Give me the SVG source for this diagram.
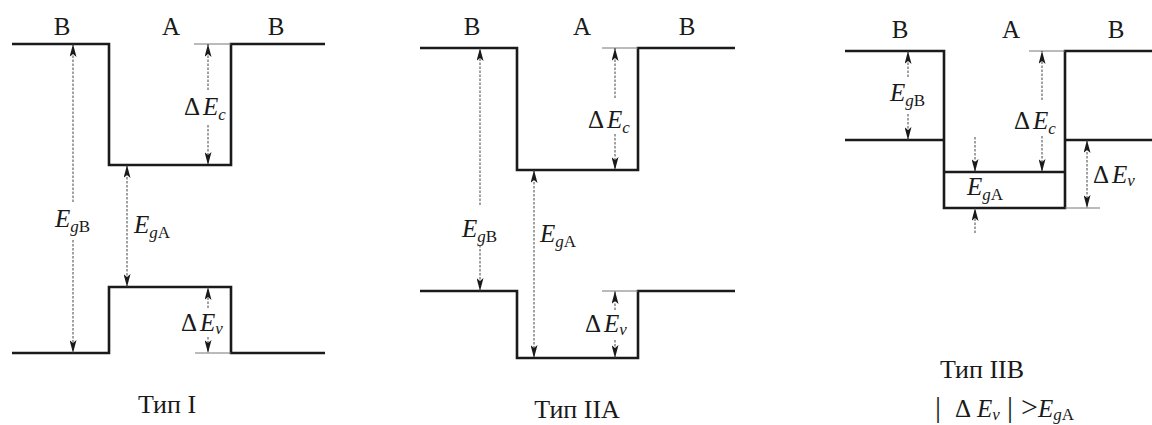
<svg xmlns="http://www.w3.org/2000/svg" width="1152" height="425" viewBox="0 0 1152 425">
<style>
.band{fill:none;stroke:#1a1a1a;stroke-width:2.6;stroke-linejoin:miter}
.ref{fill:none;stroke:#777;stroke-width:1}
.arr{fill:none;stroke:#444;stroke-width:1;stroke-dasharray:2.5 1.5}
text{font-family:"Liberation Serif","Times New Roman",serif;fill:#1a1a1a}
.lbl{font-size:25px;text-anchor:middle}
.sym{font-size:25px}
.it{font-style:italic}
.sub{font-size:17px}
.cap{font-size:26px;text-anchor:middle}
</style>
<defs>
<marker id="ah" viewBox="0 0 13 7" refX="13" refY="3.5" markerWidth="13" markerHeight="7" markerUnits="userSpaceOnUse" orient="auto-start-reverse">
<path d="M0,0 L13,3.5 L0,7 L3,3.5 z" fill="#1a1a1a"/>
</marker>
</defs>

<g id="type1">
<path class="band" d="M12,44 H109 V165 H231 V44 H325"/>
<path class="band" d="M12,353 H109 V287 H231 V353 H325"/>
<path class="ref" d="M194,44 H231 M195,353 H231"/>
<text class="lbl" x="62" y="35">B</text>
<text class="lbl" x="171" y="35">A</text>
<text class="lbl" x="276" y="35">B</text>
<text class="sym" x="55" y="227"><tspan class="it">E</tspan><tspan class="sub it" dy="5">g</tspan><tspan class="sub">B</tspan></text>
<text class="sym" x="134" y="233"><tspan class="it">E</tspan><tspan class="sub it" dy="5">g</tspan><tspan class="sub">A</tspan></text>
<text class="sym" x="184" y="115">Δ<tspan class="it" dx="3">E</tspan><tspan class="sub it" dy="5">c</tspan></text>
<text class="sym" x="181" y="331">Δ<tspan class="it" dx="3">E</tspan><tspan class="sub it" dy="3">v</tspan></text>
<text class="cap" x="167" y="413">Тип I</text>
</g>

<g id="type2a">
<path class="band" d="M420,48 H517 V170 H638 V48 H735"/>
<path class="band" d="M420,291 H517 V358 H638 V291 H735"/>
<path class="ref" d="M602,48 H638 M602,291 H638"/>
<text class="lbl" x="472" y="35">B</text>
<text class="lbl" x="582" y="35">A</text>
<text class="lbl" x="687" y="35">B</text>
<text class="sym" x="462" y="237"><tspan class="it">E</tspan><tspan class="sub it" dy="5">g</tspan><tspan class="sub">B</tspan></text>
<text class="sym" x="540" y="242"><tspan class="it">E</tspan><tspan class="sub it" dy="5">g</tspan><tspan class="sub">A</tspan></text>
<text class="sym" x="588" y="128">Δ<tspan class="it" dx="3">E</tspan><tspan class="sub it" dy="5">c</tspan></text>
<text class="sym" x="585" y="332">Δ<tspan class="it" dx="3">E</tspan><tspan class="sub it" dy="3">v</tspan></text>
<text class="cap" x="577" y="418">Тип IIA</text>
</g>

<g id="type2b">
<path class="band" d="M845,51 H944 V208 H1065 V51 H1152"/>
<path class="band" d="M845,140 H944 M944,172 H1065 M1065,140 H1152"/>
<path class="ref" d="M1029,51 H1065 M1065,208 H1100"/>
<text class="lbl" x="900" y="38">B</text>
<text class="lbl" x="1011" y="38">A</text>
<text class="lbl" x="1116" y="38">B</text>
<text class="sym" x="890" y="101"><tspan class="it">E</tspan><tspan class="sub it" dy="5">g</tspan><tspan class="sub">B</tspan></text>
<text class="sym" x="967" y="195"><tspan class="it">E</tspan><tspan class="sub it" dy="5">g</tspan><tspan class="sub">A</tspan></text>
<text class="sym" x="1014" y="129">Δ<tspan class="it" dx="3">E</tspan><tspan class="sub it" dy="5">c</tspan></text>
<text class="sym" x="1093" y="183">Δ<tspan class="it" dx="3">E</tspan><tspan class="sub it" dy="3">v</tspan></text>
<text class="cap" x="982" y="378">Тип IIB</text>
<text class="sym" y="417"><tspan x="935" font-size="30">|</tspan><tspan x="955">Δ</tspan><tspan class="it" x="977">E</tspan><tspan class="sub it" dy="3">v</tspan><tspan x="1007" dy="-3" font-size="30">|</tspan><tspan x="1021" font-size="30">&gt;</tspan><tspan class="it" x="1038">E</tspan><tspan class="sub it" dy="3">g</tspan><tspan class="sub">A</tspan></text>
</g>

<g id="connectors">
<path class="arr" d="M73,202 V44" marker-end="url(#ah)"/>
<path class="arr" d="M73,240 V353" marker-end="url(#ah)"/>
<path class="arr" d="M127,165 V287" marker-start="url(#ah)" marker-end="url(#ah)"/>
<path class="arr" d="M208,90 V44" marker-end="url(#ah)"/>
<path class="arr" d="M208,125 V165" marker-end="url(#ah)"/>
<path class="arr" d="M208,308 V287" marker-end="url(#ah)"/>
<path class="arr" d="M208,337 V353" marker-end="url(#ah)"/>
<path class="arr" d="M480,205 V48" marker-end="url(#ah)"/>
<path class="arr" d="M480,245 V291" marker-end="url(#ah)"/>
<path class="arr" d="M534,170 V358" marker-start="url(#ah)" marker-end="url(#ah)"/>
<path class="arr" d="M615,98 V48" marker-end="url(#ah)"/>
<path class="arr" d="M615,134 V170" marker-end="url(#ah)"/>
<path class="arr" d="M615,310 V291" marker-end="url(#ah)"/>
<path class="arr" d="M615,340 V358" marker-end="url(#ah)"/>
<path class="arr" d="M908,77 V51" marker-end="url(#ah)"/>
<path class="arr" d="M908,114 V140" marker-end="url(#ah)"/>
<path class="arr" d="M1042,100 V51" marker-end="url(#ah)"/>
<path class="arr" d="M1042,136 V172" marker-end="url(#ah)"/>
<path class="arr" d="M975,137 V172" marker-end="url(#ah)"/>
<path class="arr" d="M975,233 V208" marker-end="url(#ah)"/>
<path class="arr" d="M1087,140 V208" marker-start="url(#ah)" marker-end="url(#ah)"/>
</g>
</svg>
